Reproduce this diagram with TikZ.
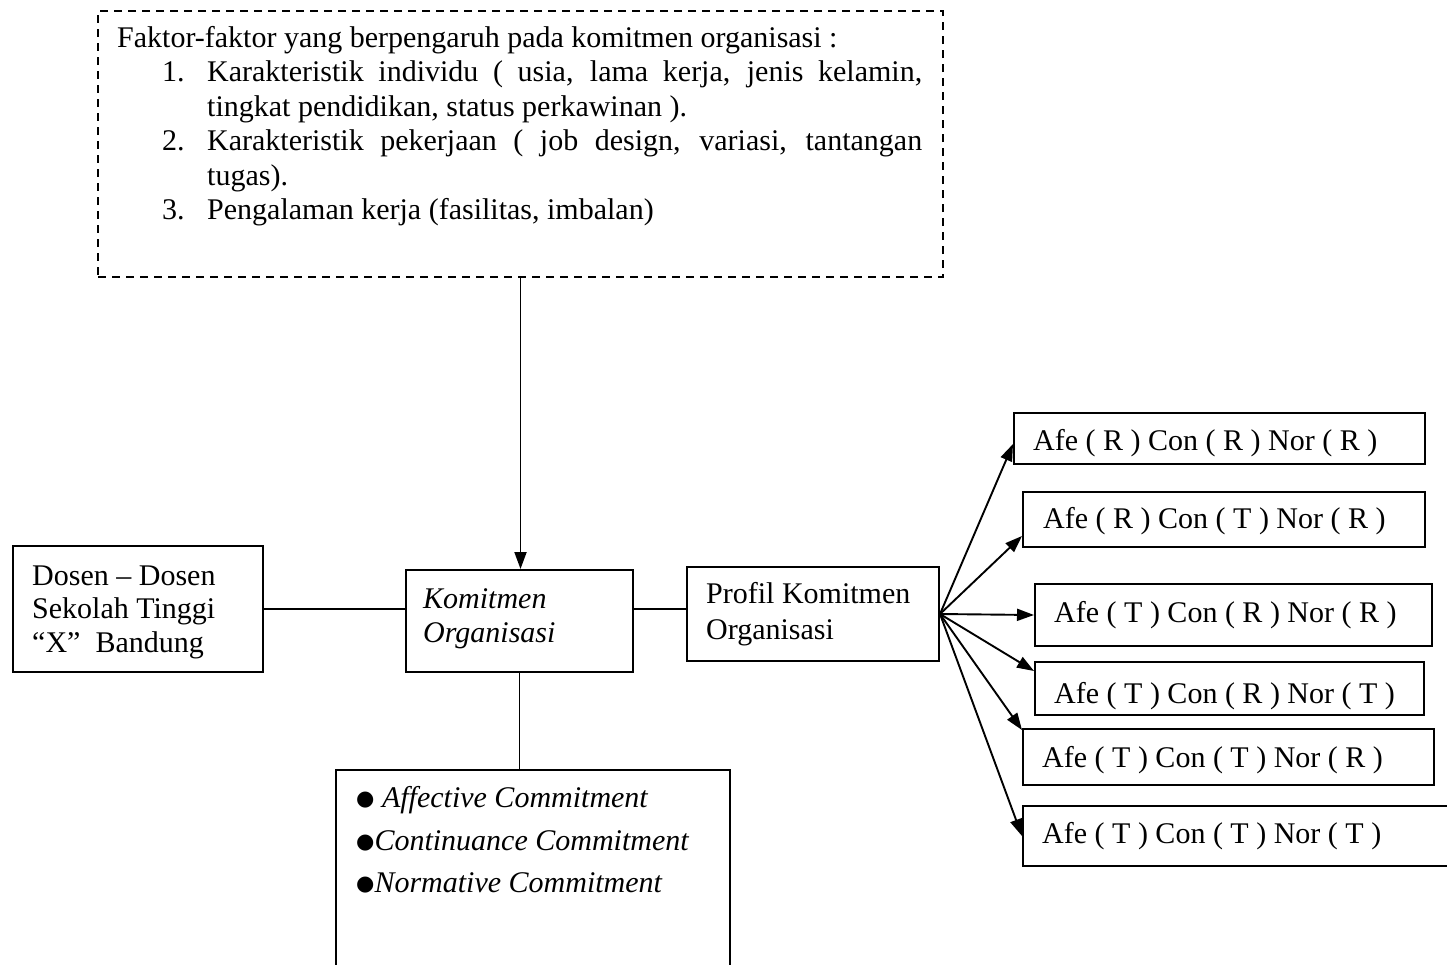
\documentclass[tikz,border=0pt]{standalone}
\usepackage{fontspec}
\setmainfont{Liberation Serif}
\newfontfamily\symfont{DejaVu Sans}
\usetikzlibrary{arrows.meta}
\tikzset{
  box/.style={draw, line width=2pt, inner sep=0pt, anchor=north west},
  dbox/.style={box, dash pattern=on 8pt off 6pt},
  txt/.style={inner sep=0pt, anchor=base west, font=\fontsize{30}{35}\selectfont},
  itxt/.style={txt, font=\fontsize{30}{35}\selectfont\itshape},
  conn/.style={line width=1.9pt},
  arr/.style={conn, -{Triangle[length=17pt,width=12pt]}},
}
\newcommand{\blt}{\raisebox{2pt}{\symfont\fontsize{21}{21}\selectfont ●}}
\begin{document}
\begin{tikzpicture}[x=1pt,y=-1pt]
\useasboundingbox (0,0) rectangle (1447,964);
% boxes
\node[dbox, minimum width=845pt, minimum height=266pt] (top) at (97,10) {};
\node[box, minimum width=250pt, minimum height=126pt] (left) at (12,545) {};
\node[box, minimum width=227pt, minimum height=102pt] (kom) at (405,569) {};
\node[box, minimum width=252pt, minimum height=94pt] (prof) at (686,566) {};
\node[box, minimum width=394pt, minimum height=330pt] (bot) at (335,769) {};
\node[box, minimum width=411pt, minimum height=51pt] (b1) at (1013,412) {};
\node[box, minimum width=402pt, minimum height=55pt] (b2) at (1022,491) {};
\node[box, minimum width=397pt, minimum height=62pt] (b3) at (1034,583) {};
\node[box, minimum width=389pt, minimum height=53pt] (b4) at (1034,661) {};
\node[box, minimum width=411pt, minimum height=56pt] (b5) at (1022,728) {};
\node[box, minimum width=478pt, minimum height=60pt] (b6) at (1022,805) {};
% top box text
\node[txt] (f0) at (117,47) {Faktor-faktor yang berpengaruh pada komitmen organisasi :};
\node[txt] (n1) at (162,81.5) {1.};
\node[txt] (f1) at (207,81.5) {\makebox[715pt][s]{Karakteristik individu ( usia, lama kerja, jenis kelamin,}};
\node[txt] (f2) at (207,116) {tingkat pendidikan, status perkawinan ).};
\node[txt] (n2) at (162,150.5) {2.};
\node[txt] (f3) at (207,150.5) {\makebox[715pt][s]{Karakteristik pekerjaan ( job design, variasi, tantangan}};
\node[txt] (f4) at (207,185) {tugas).};
\node[txt] (n3) at (162,219.5) {3.};
\node[txt] (f5) at (207,219.5) {Pengalaman kerja (fasilitas, imbalan)};
% left box
\node[txt] (l1) at (32,585) {Dosen – Dosen};
\node[txt] (l2) at (32,618.5) {Sekolah Tinggi};
\node[txt] (l3) at (32,652) {“X”~~Bandung};
% komitmen
\node[itxt] (k1) at (423,608) {Komitmen};
\node[itxt] (k2) at (423,642) {Organisasi};
% profil
\node[txt] (p1) at (706,603) {Profil Komitmen};
\node[txt] (p2) at (706,639) {Organisasi};
% bottom
\node[txt] (c1) at (356,807) {\blt\ \textit{Affective Commitment}};
\node[txt] (c2) at (356,850) {\blt\textit{Continuance Commitment}};
\node[txt] (c3) at (356,892) {\blt\textit{Normative Commitment}};
% right boxes
\node[txt] (r1) at (1033,450) {Afe ( R ) Con ( R ) Nor ( R )};
\node[txt] (r2) at (1043,528) {Afe ( R ) Con ( T ) Nor ( R )};
\node[txt] (r3) at (1054,622) {Afe ( T ) Con ( R ) Nor ( R )};
\node[txt] (r4) at (1054,703) {Afe ( T ) Con ( R ) Nor ( T )};
\node[txt] (r5) at (1042,767) {Afe ( T ) Con ( T ) Nor ( R )};
\node[txt] (r6) at (1042,843) {Afe ( T ) Con ( T ) Nor ( T )};
% connectors
\draw[arr] (top.south) -- (top.south |- kom.north);
\draw[conn] (left.east) -- (left.east -| kom.west);
\draw[conn] (left.east -| kom.east) -- (left.east -| prof.west);
\draw[conn] (kom.south) -- (kom.south |- bot.north);
\draw[arr] (prof.east) -- ([yshift=-5.5pt]b1.west);
\draw[arr] (prof.east) -- ([yshift=-16.5pt]b2.west);
\draw[arr] (prof.east) -- (b3.west);
\draw[arr] (prof.east) -- ([yshift=17.5pt]b4.west);
\draw[arr] (prof.east) -- ([yshift=-2pt]b5.north west);
\draw[arr] (prof.east) -- (b6.west);
\end{tikzpicture}
\end{document}
